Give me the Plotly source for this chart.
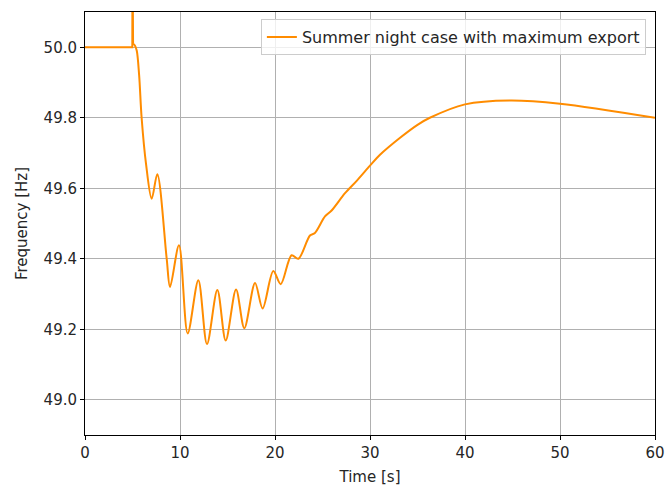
import plotly.graph_objects as go

# Frequency response after the disturbance (time in seconds, frequency in Hz)
time_s = [0.0, 2.5, 4.98, 5.0, 5.03, 5.06,
          5.25, 5.45, 5.7, 5.96, 6.42, 7.02, 7.61,
          8.6, 8.95, 9.89, 10.81, 11.93, 12.84, 13.93, 14.81, 15.9,
          16.77, 17.9, 18.7, 19.82, 20.6, 21.75, 22.46, 23.68, 24.2, 25.26,
          25.96, 27.37, 28.6, 30.0, 31.05, 33.2, 35.0, 36.3, 40.0, 44.7,
          50.0, 60.0]
freq_hz = [50.0, 50.0, 50.0, 50.3, 50.3, 50.01,
           50.005, 49.99, 49.92, 49.80, 49.67, 49.57, 49.64,
           49.40, 49.32, 49.438, 49.188, 49.339, 49.158,
           49.311, 49.168, 49.313, 49.203, 49.331, 49.259, 49.365, 49.328,
           49.41, 49.40, 49.466, 49.473, 49.52, 49.537, 49.586, 49.621,
           49.664, 49.695, 49.744, 49.78, 49.80, 49.838, 49.849, 49.84, 49.80]

series_name = "Summer night case with maximum export"
x_ticks = [0, 10, 20, 30, 40, 50, 60]
y_ticks = [49.0, 49.2, 49.4, 49.6, 49.8, 50.0]

# steady state and the switching spike are straight segments; the swing after it is smooth
split = 6
line_color = "#ff8c00"

fig = go.Figure()
fig.add_trace(go.Scatter(
    x=time_s[:split], y=freq_hz[:split], mode="lines", name=series_name,
    legendgroup="f", showlegend=False,
    line=dict(color=line_color, width=2, shape="linear"),
))
fig.add_trace(go.Scatter(
    x=time_s[split - 1:], y=freq_hz[split - 1:], mode="lines", name=series_name,
    legendgroup="f",
    line=dict(color=line_color, width=2, shape="spline", smoothing=0.9),
))

text_color = "#262626"
axis_common = dict(
    showline=True, linecolor="black", linewidth=1, mirror=True,
    ticks="outside", ticklen=4, tickcolor="black", tickwidth=1,
    showgrid=True, gridcolor="#b0b0b0", gridwidth=1, zeroline=False,
    tickfont=dict(family="DejaVu Sans", size=15, color=text_color),
    title_font=dict(family="DejaVu Sans", size=15, color=text_color),
    automargin=False,
)

fig.update_layout(
    width=665, height=486,
    margin=dict(l=85, r=10, t=12, b=51, autoexpand=False),
    paper_bgcolor="white", plot_bgcolor="white",
    showlegend=True,
    legend=dict(
        x=0.984, y=0.983, xanchor="right", yanchor="top",
        bgcolor="rgba(255,255,255,0.8)", bordercolor="#cccccc", borderwidth=1,
        font=dict(family="DejaVu Sans", size=16, color=text_color),
    ),
    xaxis=dict(axis_common, range=[0, 60], tickvals=x_ticks,
               title=dict(text="Time [s]", standoff=11)),
    yaxis=dict(axis_common, range=[48.9, 50.1], tickvals=y_ticks,
               tickformat=".1f",
               title=dict(text="Frequency [Hz]", standoff=12)),
)

fig.write_html("out.html")
